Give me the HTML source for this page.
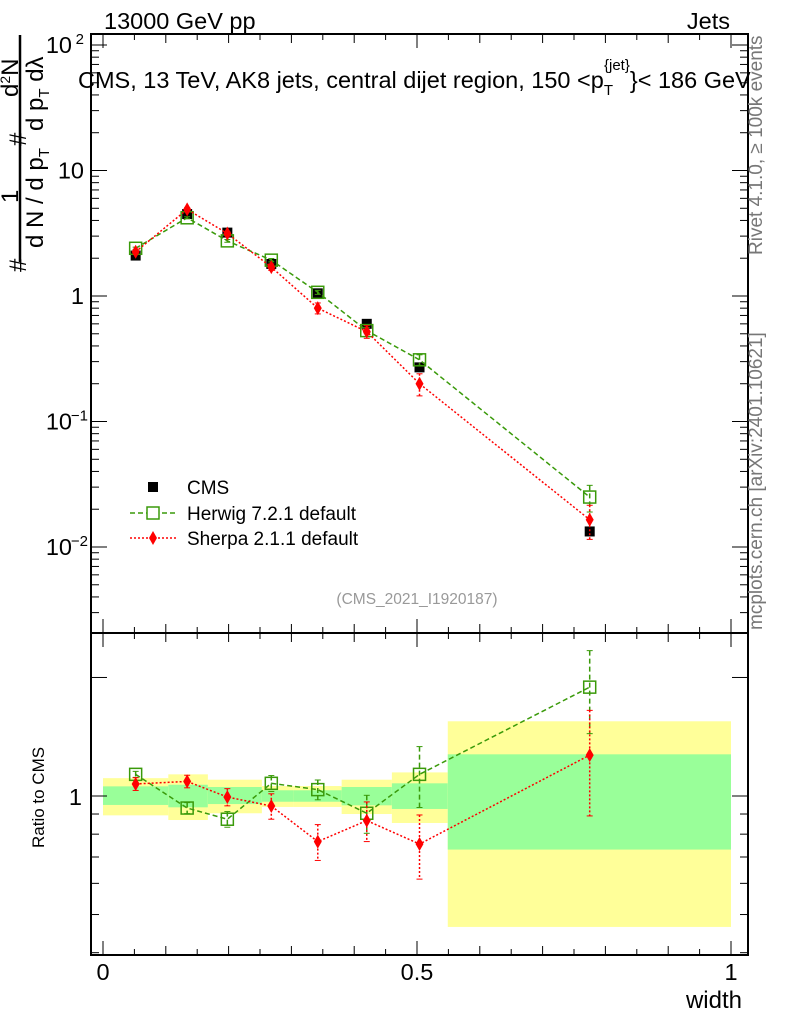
<!DOCTYPE html>
<html><head><meta charset="utf-8"><style>
body{margin:0;background:#fff}
svg{font-family:"Liberation Sans",sans-serif}
</style></head><body>
<svg id="c" width="786" height="1024" xmlns="http://www.w3.org/2000/svg">
<rect width="786" height="1024" fill="#fff"/>
<g id="bands"></g>
<g id="marks"></g>
<g id="axes" stroke="#000" fill="none"></g>
<text x="104" y="29" font-size="23.5">13000 GeV pp</text>
<text x="730" y="29" font-size="23.5" text-anchor="end">Jets</text>
<text x="78" y="88" font-size="23.5">CMS, 13 TeV, AK8 jets, central dijet region, 150 &lt;p<tspan font-size="15" dy="7">T</tspan><tspan font-size="15" dx="-9" dy="-25">{jet}</tspan><tspan dy="18">}&lt; 186 GeV</tspan></text>
<text transform="translate(762,255) rotate(-90)" font-size="19" fill="#777">Rivet 4.1.0, ≥ 100k events</text>
<text transform="translate(762,630) rotate(-90)" font-size="19" fill="#777">mcplots.cern.ch [arXiv:2401.10621]</text>
<text x="417" y="604" font-size="15.5" fill="#999" text-anchor="middle">(CMS_2021_I1920187)</text>
<g font-size="24">
<line x1="20" y1="35" x2="20" y2="262" stroke="#000" stroke-width="2.5"/>
<text transform="translate(26,272) rotate(-90)">#</text>
<text transform="translate(18,203) rotate(-90)">1</text>
<text transform="translate(43,248) rotate(-90)">d N / d p<tspan font-size="15" dy="6">T</tspan></text>
<text transform="translate(26,146) rotate(-90)">#</text>
<text transform="translate(18,97) rotate(-90)">d<tspan font-size="14" dy="-8">2</tspan><tspan dy="8">N</tspan></text>
<text transform="translate(43,131) rotate(-90)">d p<tspan font-size="15" dy="6">T</tspan><tspan dy="-6"> dλ</tspan></text>
</g>
<text transform="translate(44,848) rotate(-90)" font-size="17">Ratio to CMS</text>
<text x="742" y="1008" font-size="24" text-anchor="end">width</text>
<g font-size="19">
<rect x="148" y="482" width="10" height="10" fill="#000"/>
<text x="187" y="494">CMS</text>
<line x1="130" y1="513" x2="176" y2="513" stroke="#3a9a0a" stroke-width="1.5" stroke-dasharray="5,3"/>
<rect x="147" y="507" width="12" height="12" fill="#fff" stroke="#3a9a0a" stroke-width="1.5"/>
<text x="187" y="520">Herwig 7.2.1 default</text>
<line x1="130" y1="538" x2="176" y2="538" stroke="#f00" stroke-width="1.5" stroke-dasharray="2,2"/>
<path d="M153 531 L157 538 L153 545 L149 538Z" fill="#f00"/>
<text x="187" y="545">Sherpa 2.1.1 default</text>
</g>
</svg>
<script>
const xVals=[0.052,0.134,0.198,0.268,0.342,0.42,0.504,0.775];
const binEdges=[0,0.104,0.167,0.253,0.304,0.38,0.46,0.549,1];
const cmsVals=[2.1,4.5,3.2,1.8,1.05,0.6,0.27,0.0133];
const herwigVals=[2.4,4.2,2.75,1.93,1.07,0.53,0.31,0.025];
const herwigErr=[0.05,0.08,0.07,0.06,0.04,0.03,0.03,0.006];
const sherpaVals=[2.25,4.9,3.15,1.7,0.8,0.52,0.2,0.0165];
const sherpaErr=[0.08,0.15,0.12,0.1,0.08,0.06,0.04,0.005];
const herwigRatio=[1.135,0.932,0.873,1.077,1.038,0.904,1.135,1.89];
const herwigRatioErr=[0.02,0.03,0.04,0.05,0.06,0.1,0.2,0.45];
const sherpaRatio=[1.073,1.089,0.994,0.943,0.766,0.866,0.755,1.27];
const sherpaRatioErr=[0.04,0.04,0.05,0.07,0.08,0.1,0.14,0.38];
const yellowHi=[1.11,1.135,1.10,1.06,1.06,1.10,1.148,1.548];
const yellowLo=[0.893,0.869,0.904,0.938,0.938,0.90,0.854,0.465];
const greenHi=[1.058,1.068,1.054,1.034,1.034,1.054,1.077,1.276];
const greenLo=[0.949,0.936,0.954,0.967,0.967,0.947,0.927,0.731];
const xTicks=["0","0.5","1"];

const NS="http://www.w3.org/2000/svg";
const L=91,R=748,T=34,MB=633,RB=955;
const X=v=>103+v*628;
const Y=v=>45-(Math.log10(v)-2)*125.5;
const RY=v=>796-Math.log(v)*171;
function mk(p,tag,a){const e=document.createElementNS(NS,tag);for(const k in a)e.setAttribute(k,a[k]);p.appendChild(e);return e;}
const svg=document.getElementById('c');
const bands=document.getElementById('bands'),marks=document.getElementById('marks'),ax=document.getElementById('axes');
for(let i=0;i<yellowHi.length;i++){
 let e=mk(bands,'rect',{x:X(binEdges[i]),y:RY(yellowHi[i]),width:X(binEdges[i+1])-X(binEdges[i]),height:RY(yellowLo[i])-RY(yellowHi[i]),fill:'#ffff99'});
 
 
 let g=mk(bands,'rect',{x:X(binEdges[i]),y:RY(greenHi[i]),width:X(binEdges[i+1])-X(binEdges[i]),height:RY(greenLo[i])-RY(greenHi[i]),fill:'#99ff99'});
 
 
}
function series(vals,errs,yf,col,dash,shape,name){
 const pts=vals.map((v,i)=>X(xVals[i])+','+yf(v)).join(' ');
 if(shape!=='sq'){
  const pl=mk(marks,'polyline',{points:pts,fill:'none',stroke:col,'stroke-width':1.5,'stroke-dasharray':dash});
  
  
 }
 vals.forEach((v,i)=>{
  const x=X(xVals[i]),y=yf(v);
  if(errs){const y1=yf(v+errs[i]),y2=yf(Math.max(v-errs[i],1e-6));
   mk(marks,'line',{x1:x,x2:x,y1:y1,y2:y2,stroke:col,'stroke-width':1.5,'stroke-dasharray':dash});
   mk(marks,'line',{x1:x-3,x2:x+3,y1:y1,y2:y1,stroke:col});mk(marks,'line',{x1:x-3,x2:x+3,y1:y2,y2:y2,stroke:col});}
  let m;
  if(shape==='sq')m=mk(marks,'rect',{x:x-5,y:y-5,width:10,height:10,fill:'#000'});
  else if(shape==='osq')m=mk(marks,'rect',{x:x-6,y:y-6,width:12,height:12,fill:'none',stroke:col,'stroke-width':1.5});
  else m=mk(marks,'path',{d:`M${x} ${y-7}L${x+4} ${y}L${x} ${y+7}L${x-4} ${y}Z`,fill:col});
  
  
 });
}
series(cmsVals,null,Y,'#000','none','sq','cms');
series(herwigVals,herwigErr,Y,'#3a9a0a','5,3','osq','herwig');
series(sherpaVals,sherpaErr,Y,'#f00','2,2','dia','sherpa');
series(herwigRatio,herwigRatioErr,RY,'#3a9a0a','5,3','osq','herwig-ratio');
series(sherpaRatio,sherpaRatioErr,RY,'#f00','2,2','dia','sherpa-ratio');
mk(ax,'rect',{x:L,y:T,width:R-L,height:MB-T,'stroke-width':2});
mk(ax,'rect',{x:L,y:MB,width:R-L,height:RB-MB,'stroke-width':2});
for(let k=0;k<=20;k++){const v=k*0.05,x=X(v),len=(k%10===0)?14:(k%2===0?9:6);
 [[T,1],[MB,-1],[MB,1],[RB,-1]].forEach(([y,d])=>mk(ax,'line',{x1:x,x2:x,y1:y,y2:y+d*len}));}
xTicks.forEach((t,i)=>{const e=mk(svg,'text',{x:X(i*0.5),y:980,'font-size':23.5,'text-anchor':'middle',fill:'#000'});e.textContent=t;
 
 });
for(let d=-3;d<=2;d++)for(let m=1;m<=9;m++){const v=m*Math.pow(10,d),y=Y(v);if(y<T||y>MB)continue;const len=m===1?16:8;
 mk(ax,'line',{x1:L,x2:L+len,y1:y,y2:y});mk(ax,'line',{x1:R,x2:R-len,y1:y,y2:y});}
[[100,'10','2'],[10,'10',''],[1,'1',''],[0.1,'10','−1'],[0.01,'10','−2']].forEach(([v,b,e])=>{
 const t=mk(svg,'text',{x:e?72:84,y:Y(v)+8,'font-size':23.5,'text-anchor':'end',fill:'#000'});t.textContent=b;
 
 
 if(e){const s=mk(svg,'text',{x:e==='2'?84:88,y:Y(v)-1,'font-size':15,'text-anchor':'end',fill:'#000'});s.textContent=e;
  
  }
});
[0.4,0.5,0.6,0.7,0.8,0.9,1,2].forEach(v=>{const y=RY(v);if(y<MB||y>RB)return;const len=v===1||v===2?16:8;
 mk(ax,'line',{x1:L,x2:L+len,y1:y,y2:y});mk(ax,'line',{x1:R,x2:R-len,y1:y,y2:y});});
const r1=mk(svg,'text',{x:82,y:RY(1)+9,'font-size':23.5,'text-anchor':'end',fill:'#000'});r1.textContent='1';


</script>
</body></html>
